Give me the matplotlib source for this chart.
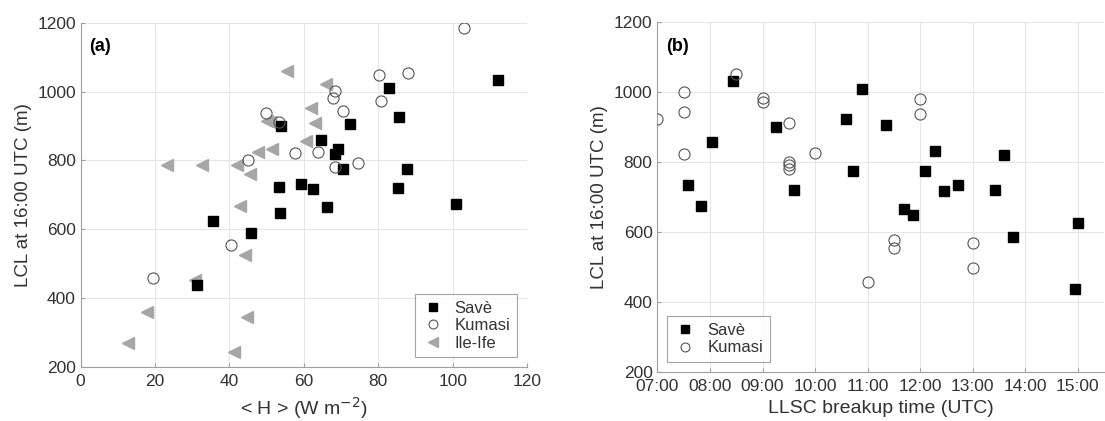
import matplotlib
matplotlib.use("Agg")
import matplotlib.pyplot as plt

plt.rcParams['font.family'] = ['Liberation Sans', 'DejaVu Sans']

# panel (a): sensible heat flux vs LCL
save_h = [31.2, 35.5, 45.8, 53.3, 53.5, 53.9, 59.2, 62.4, 64.6, 66.3,
          68.5, 69.3, 70.6, 72.3, 82.9, 85.6, 85.4, 87.7, 100.9, 112.1]
save_lcl = [438, 623, 588, 722, 648, 900, 733, 717, 859, 664,
            819, 832, 776, 906, 1011, 926, 721, 775, 675, 1035]

kum_h = [19.5, 40.4, 45.1, 49.7, 53.4, 57.5, 63.9, 67.8, 68.3, 68.5,
         70.5, 74.6, 80.1, 80.6, 88.0, 103.0]
kum_lcl = [458, 556, 800, 938, 913, 823, 826, 981, 1002, 782,
           944, 794, 1049, 973, 1053, 1186]

ife_h = [12.8, 17.8, 23.2, 30.8, 32.6, 41.3, 42.1, 42.9, 44.2, 44.6,
         45.4, 47.7, 50.1, 50.9, 51.4, 55.5, 60.5, 61.8, 63.1, 66.0]
ife_lcl = [269, 360, 787, 453, 787, 244, 788, 668, 525, 345,
           761, 824, 916, 911, 833, 1061, 857, 952, 909, 1022]

# panel (b): LLSC breakup time (hours UTC) vs LCL
save_t = [7.59, 7.83, 8.03, 8.43, 9.26, 9.60, 10.59, 10.73, 10.89, 11.36,
          11.70, 11.86, 12.09, 12.29, 12.46, 12.72, 13.42, 13.59, 13.76, 15.0, 14.95]
save_lcl_b = [734, 675, 859, 1033, 902, 721, 925, 776, 1010, 906,
              665, 649, 775, 831, 718, 736, 721, 821, 587, 625, 439]

kum_t = [7.0, 7.5, 7.5, 7.5, 8.5, 9.0, 9.0, 9.5, 9.5, 9.5,
         9.5, 10.0, 11.0, 11.5, 11.5, 12.0, 12.0, 13.0, 13.0]
kum_lcl_b = [925, 1001, 943, 823, 1051, 985, 972, 912, 801, 793,
             780, 826, 459, 577, 556, 980, 939, 568, 498]

hours = [7, 8, 9, 10, 11, 12, 13, 14, 15]
hour_labels = ['%02d:00' % h for h in hours]

txt = '#333333'
spine = '#a0a0a0'
tri_col = '#a6a6a6'
circ_col = '#555555'

fig = plt.figure(figsize=(11.05, 4.21), dpi=100)
ax1 = fig.add_axes([0.073, 0.128, 0.404, 0.818])
ax2 = fig.add_axes([0.595, 0.116, 0.404, 0.831])

def style(ax):
    ax.set_ylim(200, 1200)
    ax.set_yticks(range(200, 1201, 200))
    ax.grid(True, color='#e6e6e6', linewidth=0.8)
    ax.set_axisbelow(True)
    for s in ['top', 'right']:
        ax.spines[s].set_visible(False)
    for s in ['left', 'bottom']:
        ax.spines[s].set_color(spine)
        ax.spines[s].set_linewidth(0.8)
    ax.tick_params(direction='in', length=3, color=spine, labelsize=12.5, labelcolor=txt)
    ax.tick_params(axis='x', pad=5)
    ax.set_ylabel('LCL at 16:00 UTC (m)', fontsize=13.5, color=txt)

def legend(ax, loc, anchor):
    leg = ax.legend(loc=loc, bbox_to_anchor=anchor, borderaxespad=0, fontsize=12,
                    frameon=True, fancybox=False, edgecolor='#8c8c8c',
                    handletextpad=0.6, borderpad=0.4, labelspacing=0.15,
                    handlelength=1.4, markerscale=0.8)
    leg.get_frame().set_linewidth(0.8)
    for t in leg.get_texts():
        t.set_color(txt)
    return leg

ax1.plot(save_h, save_lcl, 's', color='black', markersize=6.5, label='Savè', zorder=3)
ax1.plot(kum_h, kum_lcl, 'o', mfc='none', mec=circ_col, mew=0.8, markersize=8, label='Kumasi', zorder=3)
ax1.plot(ife_h, ife_lcl, '<', color=tri_col, markersize=8.5, label='Ile-Ife', zorder=2)
style(ax1)
ax1.set_xlim(0, 120)
ax1.set_xticks(range(0, 121, 20))
ax1.set_xlabel(r'< H > (W m$^{-2}$)', fontsize=14, color=txt)
ax1.text(0.02, 0.93, '(a)', transform=ax1.transAxes, fontsize=13, fontweight='bold', va='center')
legend(ax1, 'lower right', (0.9776, 0.028))

ax2.plot(save_t, save_lcl_b, 's', color='black', markersize=6.5, label='Savè', zorder=3)
ax2.plot(kum_t, kum_lcl_b, 'o', mfc='none', mec=circ_col, mew=0.8, markersize=8, label='Kumasi', zorder=3)
style(ax2)
ax2.set_xlim(7, 15.5)
ax2.set_xticks(hours)
ax2.set_xticklabels(hour_labels)
ax2.set_xlabel('LLSC breakup time (UTC)', fontsize=14, color=txt)
ax2.text(0.02, 0.93, '(b)', transform=ax2.transAxes, fontsize=13, fontweight='bold', va='center')
legend(ax2, 'lower left', (0.0217, 0.0286))

fig.savefig('out.png', dpi=100)
